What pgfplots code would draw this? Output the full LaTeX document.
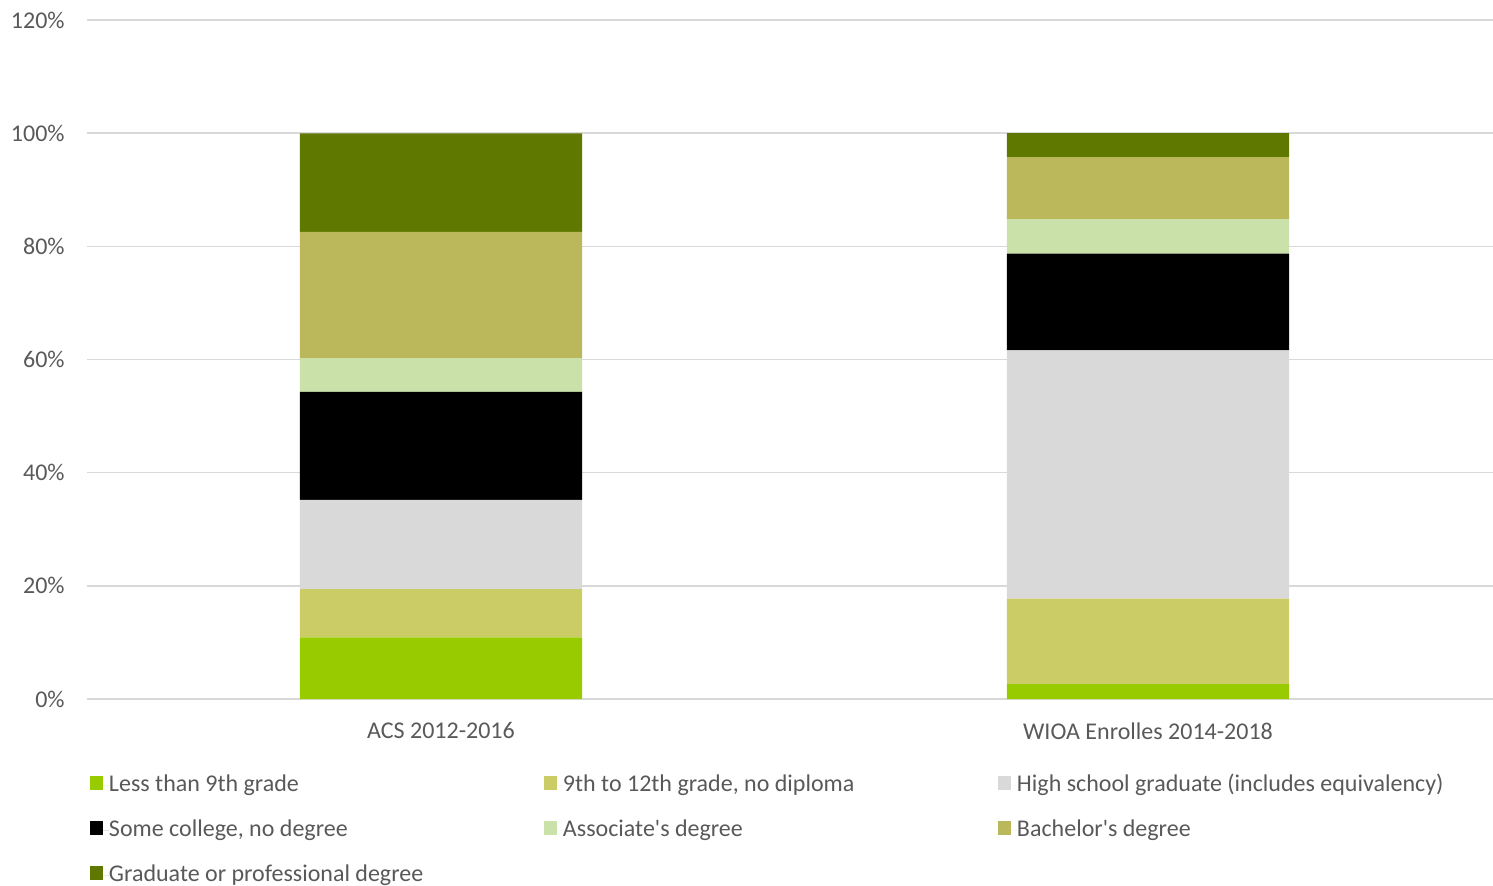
\documentclass[border=0pt]{standalone}
\usepackage{fontspec}
\setmainfont{Carlito}[Ligatures=TeXOff]
\usepackage{pgfplots}
\pgfplotsset{compat=1.18}
\definecolor{cLess}{HTML}{99CC00}
\definecolor{cNine}{HTML}{CCCC66}
\definecolor{cHS}{HTML}{D9D9D9}
\definecolor{cSome}{HTML}{000000}
\definecolor{cAssoc}{HTML}{CAE1A9}
\definecolor{cBach}{HTML}{BBB85C}
\definecolor{cGrad}{HTML}{5E7800}
\definecolor{cText}{HTML}{595959}
\definecolor{cGrid}{HTML}{D9D9D9}
\pgfplotsset{legsq/.style={legend image code/.code={%
  \fill[##1,draw=none] (0pt,-2.5pt) rectangle (6.5pt,4.5pt);
  \path (0pt,0pt) -- (9.5pt,0pt);}}}
\newcommand{\lb}[1]{\makebox[217.5pt][l]{#1}}
\begin{document}
\begin{tikzpicture}
\begin{axis}[
  at={(0,0)}, anchor=south west,
  scale only axis, width=703pt, height=339.5pt,
  ybar stacked, bar width=0.399,
  xmin=-0.5007, xmax=1.488, ymin=0, ymax=120,
  xtick=data, xticklabels={ACS 2012-2016, WIOA Enrolles 2014-2018},
  ytick={0,20,40,60,80,100,120},
  yticklabels={0\%,20\%,40\%,60\%,80\%,100\%,120\%},
  major tick length=0pt,
  axis line style={draw=none},
  ymajorgrids, grid style={cGrid, line width=0.75pt},
  tick label style={font=\fontsize{12}{14}\selectfont, text=cText},
  yticklabel style={inner sep=0pt, anchor=east, xshift=-11pt},
  xticklabel style={inner sep=0pt, anchor=north, yshift=-11.5pt},
  legend columns=3,
  legend style={at={(axis description cs:0,0)}, anchor=north west,
    xshift=1.5pt, yshift=-37.5pt, draw=none, fill=none,
    inner sep=0pt, outer sep=0pt, row sep=11.5pt,
    font=\fontsize{12}{14}\selectfont, text=cText,
    nodes={inner sep=0pt, text height=8.5pt, text depth=2.5pt},
    /tikz/every even column/.append style={column sep=0pt}},
  legend cell align=left,
]
\addplot[legsq, fill=cLess, draw=none] coordinates {(0,10.9) (1,2.65)};
\addplot[legsq, fill=cNine, draw=none] coordinates {(0,8.5) (1,15.1)};
\addplot[legsq, fill=cHS, draw=none] coordinates {(0,15.8) (1,43.85)};
\addplot[legsq, fill=cSome, draw=none] coordinates {(0,19.1) (1,17.1)};
\addplot[legsq, fill=cAssoc, draw=none] coordinates {(0,5.95) (1,6.1)};
\addplot[legsq, fill=cBach, draw=none] coordinates {(0,22.3) (1,10.95)};
\addplot[legsq, fill=cGrad, draw=none] coordinates {(0,17.4) (1,4.25)};
\legend{\lb{Less than 9th grade}, \lb{9th to 12th grade, no diploma}, \lb{High school graduate (includes equivalency)}, \lb{Some college, no degree}, \lb{Associate's degree}, \lb{Bachelor's degree}, \lb{Graduate or professional degree}}
\end{axis}
\pgfresetboundingbox
\useasboundingbox (-43.5pt,-93pt) rectangle (703pt,349.5pt);
\end{tikzpicture}
\end{document}
